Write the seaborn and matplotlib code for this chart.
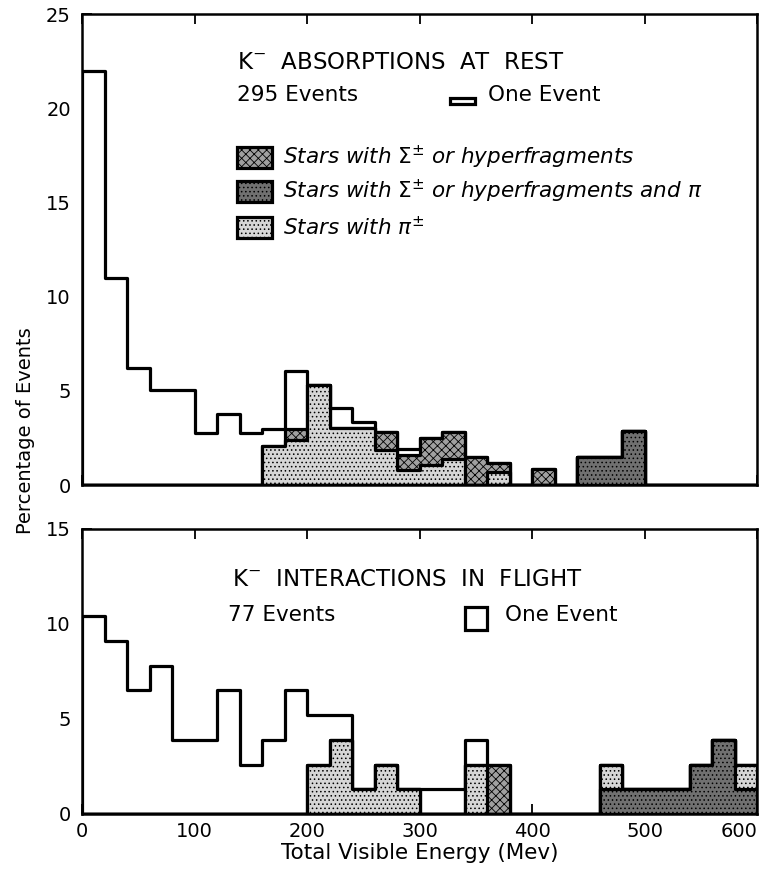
import numpy as np
import pandas as pd
import matplotlib
matplotlib.use("Agg")
import matplotlib.pyplot as plt
import seaborn as sns
from matplotlib.patches import Rectangle

# ---------------- data ----------------
# energy bins: 20 MeV wide, 0-600 MeV
bin_edges = list(range(0, 620, 20))
bin_centers = [e + 10 for e in bin_edges[:-1]]

# K- absorptions at rest (295 events) : percentage of events per bin
rest_total = [22.0, 11.0, 6.2, 5.05, 5.05, 2.75, 3.75, 2.75, 3.0, 6.05,
              5.3, 4.1, 3.35, 2.8, 1.9, 2.5, 2.8, 1.5, 1.15, 0.0,
              0.85, 0.0, 1.5, 1.5, 2.85, 0.0, 0.0, 0.0, 0.0, 0.0]
rest_pi = [0, 0, 0, 0, 0, 0, 0, 0, 2.05, 2.4,
           5.3, 3.05, 3.05, 1.85, 0.8, 1.05, 1.4, 0, 0.7, 0,
           0, 0, 0, 0, 0, 0, 0, 0, 0, 0]
rest_sigma = [0, 0, 0, 0, 0, 0, 0, 0, 0, 0.6,
              0, 0, 0, 0.95, 0.8, 1.45, 1.4, 1.5, 0.45, 0,
              0.85, 0, 0, 0, 0, 0, 0, 0, 0, 0]
rest_sigma_and_pi = [0, 0, 0, 0, 0, 0, 0, 0, 0, 0,
                     0, 0, 0, 0, 0, 0, 0, 0, 0, 0,
                     0, 0, 1.5, 1.5, 2.85, 0, 0, 0, 0, 0]

# K- interactions in flight (77 events)
flight_total = [10.4, 9.1, 6.5, 7.8, 3.9, 3.9, 6.5, 2.6, 3.9, 6.5,
                5.2, 5.2, 1.3, 2.6, 1.3, 1.3, 1.3, 3.9, 2.6, 0.0,
                0.0, 0.0, 0.0, 2.6, 1.3, 1.3, 1.3, 2.6, 3.9, 2.6]
flight_pi = [0, 0, 0, 0, 0, 0, 0, 0, 0, 0,
             2.6, 3.9, 1.3, 2.6, 1.3, 0, 0, 2.6, 0, 0,
             0, 0, 0, 1.3, 0, 0, 0, 0, 0, 1.3]
flight_sigma = [0, 0, 0, 0, 0, 0, 0, 0, 0, 0,
                0, 0, 0, 0, 0, 0, 0, 0, 2.6, 0,
                0, 0, 0, 0, 0, 0, 0, 0, 0, 0]
flight_sigma_and_pi = [0, 0, 0, 0, 0, 0, 0, 0, 0, 0,
                       0, 0, 0, 0, 0, 0, 0, 0, 0, 0,
                       0, 0, 0, 1.3, 1.3, 1.3, 1.3, 2.6, 3.9, 1.3]

x_tick_labels = ["0", "100", "200", "300", "400", "500", "600"]
legend_labels = [r"Stars with $\Sigma^{\pm}$ or hyperfragments",
                 r"Stars with $\Sigma^{\pm}$ or hyperfragments and $\pi$",
                 r"Stars with $\pi^{\pm}$"]

# ---------------- style ----------------
sns.set_theme(style="ticks")
plt.rcParams["font.family"] = ["DejaVu Sans"]
plt.rcParams["mathtext.fontset"] = "dejavusans"
plt.rcParams["hatch.linewidth"] = 0.6
plt.rcParams["text.color"] = "black"
plt.rcParams["axes.labelcolor"] = "black"
plt.rcParams["xtick.color"] = "black"
plt.rcParams["ytick.color"] = "black"

LW = 2.3
FS = 15.5
STY_WHITE = dict(face="white", hatch=None)
STY_SIG = dict(face="#a0a0a0", hatch="xxxx")
STY_PI = dict(face="#d6d6d6", hatch="....")
STY_DARK = dict(face="#707070", hatch="....")

fig = plt.figure(figsize=(7.65, 8.73), dpi=100)
ax1 = fig.add_axes([0.1072, 0.4444, 0.8824, 0.5395])
ax2 = fig.add_axes([0.1072, 0.0676, 0.8824, 0.3265])


def layer(ax, heights, sty):
    df = pd.DataFrame({"energy": bin_centers, "pct": heights})
    n0 = len(ax.collections)
    sns.histplot(data=df, x="energy", weights="pct", bins=bin_edges,
                 element="step", fill=True, color=sty["face"], alpha=1,
                 edgecolor="black", linewidth=LW, ax=ax)
    for c in ax.collections[n0:]:
        if sty["hatch"]:
            c.set_hatch(sty["hatch"])


def draw_panel(ax, total, pi, sigma, both):
    cum_dark = np.array(both, dtype=float)
    cum_pi = cum_dark + np.array(pi, dtype=float)
    cum_sig = cum_pi + np.array(sigma, dtype=float)
    layer(ax, total, STY_WHITE)
    layer(ax, cum_sig, STY_SIG)
    layer(ax, cum_pi, STY_PI)
    layer(ax, cum_dark, STY_DARK)


draw_panel(ax1, rest_total, rest_pi, rest_sigma, rest_sigma_and_pi)
draw_panel(ax2, flight_total, flight_pi, flight_sigma, flight_sigma_and_pi)

for ax, ymax in ((ax1, 25), (ax2, 15)):
    ax.set_xlim(0, 600)
    ax.set_ylim(0, ymax)
    ax.set_yticks(range(0, ymax + 1, 5))
    ax.set_xticks(range(0, 601, 100))
    ax.set_xlabel("")
    ax.set_ylabel("")
    for s in ax.spines.values():
        s.set_visible(True)
        s.set_linewidth(1.8)
        s.set_color("black")
    ax.tick_params(axis="both", direction="in", length=7, width=1.3,
                   labelsize=14, colors="black", top=True, right=False)
    ax.tick_params(axis="y", pad=8)

ax1.set_xticklabels([])
ax2.set_xticklabels(x_tick_labels)
ax2.get_xticklabels()[-1].set_horizontalalignment("right")
ax2.tick_params(axis="x", pad=6)
ax2.set_xlabel("Total Visible Energy (Mev)", fontsize=FS, labelpad=1,
               color="black")
fig.text(0.033, 0.507, "Percentage of Events", rotation=90,
         ha="center", va="center", fontsize=14, color="black")

# ---- annotations, top panel ----
ax1.text(0.2296, 0.897, r"K$^{-}$  ABSORPTIONS  AT  REST", transform=ax1.transAxes,
         fontsize=16.5, va="center", ha="left", color="black")
ax1.text(0.2296, 0.828, "295 Events", transform=ax1.transAxes,
         fontsize=FS, va="center", ha="left", color="black")
ax1.add_patch(Rectangle((327, 20.2), 22, 0.34, facecolor="white",
                        edgecolor="black", linewidth=LW))
ax1.text(0.6015, 0.828, "One Event", transform=ax1.transAxes,
         fontsize=FS, va="center", ha="left", color="black")

leg_y = [0.695, 0.624, 0.547]
leg_sty = [STY_SIG, STY_DARK, STY_PI]
for yy, sty, lab in zip(leg_y, leg_sty, legend_labels):
    r = Rectangle((0.2296, yy - 0.022), 0.052, 0.044, transform=ax1.transAxes,
                  facecolor=sty["face"], edgecolor="black", linewidth=LW,
                  hatch=sty["hatch"])
    ax1.add_patch(r)
    ax1.text(0.2978, yy, lab, transform=ax1.transAxes, fontsize=FS,
             style="italic", va="center", ha="left", color="black")

# ---- annotations, bottom panel ----
ax2.text(0.222, 0.821, r"K$^{-}$  INTERACTIONS  IN  FLIGHT", transform=ax2.transAxes,
         fontsize=16.5, va="center", ha="left", color="black")
ax2.text(0.216, 0.698, "77 Events", transform=ax2.transAxes,
         fontsize=FS, va="center", ha="left", color="black")
ax2.add_patch(Rectangle((340, 9.7), 20, 1.2, facecolor="white",
                        edgecolor="black", linewidth=LW))
ax2.text(0.627, 0.698, "One Event", transform=ax2.transAxes,
         fontsize=FS, va="center", ha="left", color="black")

fig.savefig("out.png", dpi=100)
